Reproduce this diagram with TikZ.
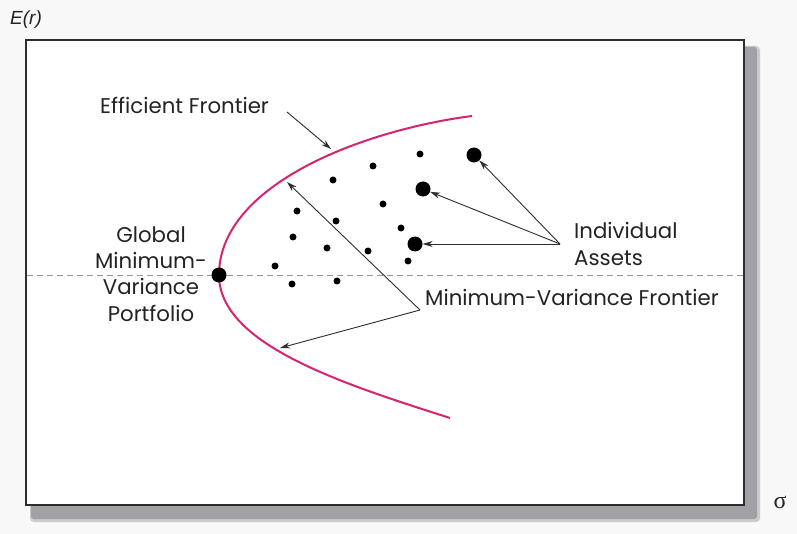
\documentclass[tikz,border=0pt]{standalone}
\usepackage{fontspec}
\setmainfont{Poppins}
\newfontfamily\axisfont{Liberation Sans}
\newfontfamily\sigmafont{Liberation Serif}
\usetikzlibrary{arrows.meta}
\definecolor{frontier}{RGB}{214,36,112}
\definecolor{ink}{RGB}{45,45,45}
\definecolor{txt}{RGB}{35,35,35}
\definecolor{dashgray}{RGB}{150,150,150}
\definecolor{shadowgray}{RGB}{160,161,165}
\definecolor{bggray}{RGB}{248,248,248}
\begin{document}
\begin{tikzpicture}[x=1pt,y=-1pt,
  lbl/.style={font=\fontsize{21.3}{26.3}\selectfont, text=txt, inner sep=0pt},
  dotsm/.style={circle,fill=black,inner sep=0pt,minimum size=7pt},
  dotbig/.style={circle,fill=black,inner sep=0pt,minimum size=15pt},
  pointer/.style={draw=ink, line width=0.9pt, -{Stealth[length=10pt,width=6pt]}},
  curvestyle/.style={draw=frontier, line width=2pt},
]
\useasboundingbox (0,0) rectangle (797,534);
\fill[bggray] (0,0) rectangle (797,534);
% shadow
\fill[shadowgray!55, rounded corners=4pt] (30,46) rectangle (760,522);
\fill[shadowgray, rounded corners=3pt] (31,47) rectangle (757,519);
% frame
\draw[fill=white, draw=ink, line width=1.4pt] (26,40) rectangle (744,505);
% dashed line
\draw[dashgray, line width=0.8pt, dash pattern=on 6pt off 4pt] (27,275) -- (743,275);
% frontier curve
\coordinate (ctop) at (472,116);
\coordinate (cvert) at (219,275);
\coordinate (cbot) at (450,418);
\draw[curvestyle] (ctop) .. controls (362,130.3) and (219,185) .. (cvert)
  .. controls (219,345) and (345,384.4) .. (cbot);
% curve points used by arrows
\coordinate (effpt) at (331,149);
\coordinate (mvtop) at (287,182);
\coordinate (mvbot) at (280,348);
% small dots
\node[dotsm] (d1) at (420,154) {};
\node[dotsm] (d2) at (373,166) {};
\node[dotsm] (d3) at (333,180) {};
\node[dotsm] (d4) at (297,211) {};
\node[dotsm] (d5) at (336,221) {};
\node[dotsm] (d6) at (383,204) {};
\node[dotsm] (d7) at (401,228) {};
\node[dotsm] (d8) at (293,237) {};
\node[dotsm] (d9) at (327,248) {};
\node[dotsm] (d10) at (368,251) {};
\node[dotsm] (d11) at (408,261) {};
\node[dotsm] (d12) at (275,266) {};
\node[dotsm] (d13) at (292,284) {};
\node[dotsm] (d14) at (337,281) {};
% big dots
\node[dotbig] (a1) at (474,155) {};
\node[dotbig] (a2) at (423,189) {};
\node[dotbig] (a3) at (415,244) {};
\node[dotbig] (gmv) at (cvert) {};
% labels
\node[lbl, anchor=west] (efflbl) at (100,105) {Efficient Frontier};
\node[lbl, align=center] (gmvlbl) at (151,274) {Global\\Minimum-\\Variance\\Portfolio};
\node[lbl, align=left, anchor=west] (indlbl) at (574,244) {Individual\\Assets};
\node[lbl, anchor=west] (mvlbl) at (425,297) {Minimum-Variance Frontier};
\node[font=\axisfont\itshape\fontsize{19}{21}\selectfont, text=txt, anchor=west, inner sep=0pt] (ylbl) at (10,20) {E(r)};
\node[font=\sigmafont\fontsize{24}{26}\selectfont, text=txt, inner sep=0pt] (xlbl) at (780,502) {σ};
% connector start points
\coordinate (effstart) at (287,112);
\coordinate (mvapex) at (420,310);
\coordinate (indapex) at (560,244);
% arrows
\draw[pointer] (effstart) -- (effpt);
\draw[pointer] (mvapex) -- (mvtop);
\draw[pointer] (mvapex) -- (mvbot);
\draw[pointer] (indapex) -- (a1);
\draw[pointer] (indapex) -- (a2);
\draw[pointer] (indapex) -- (a3);
\end{tikzpicture}
\end{document}
